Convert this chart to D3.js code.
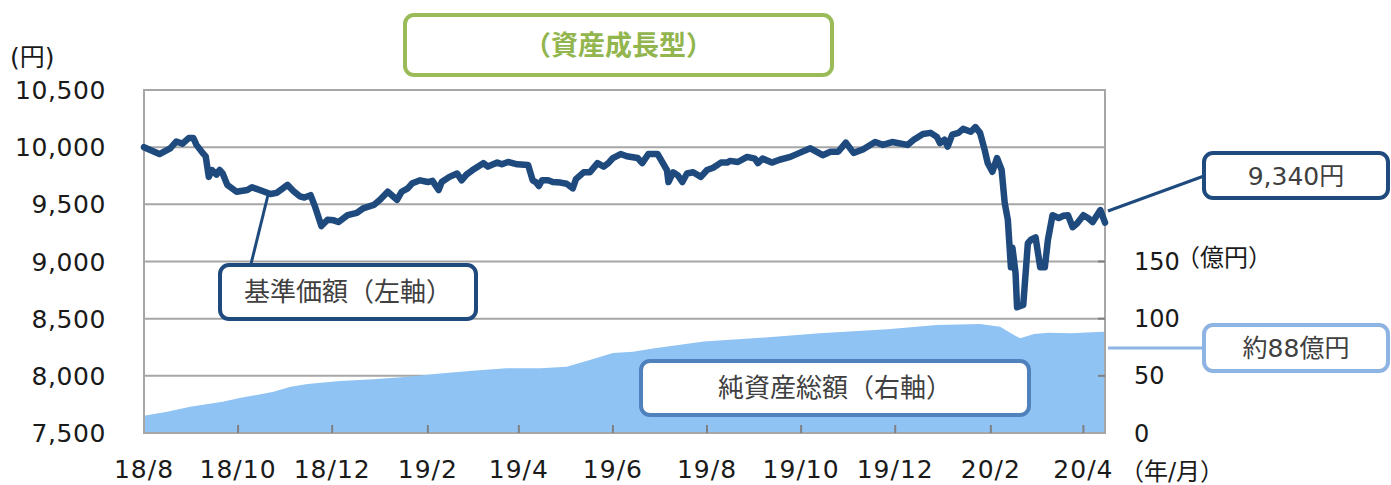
<!DOCTYPE html>
<html><head><meta charset="utf-8">
<script src="https://cdn.jsdelivr.net/npm/d3@7"></script>
<style>
html,body{margin:0;padding:0;background:#fff;}
svg{display:block;font-family:"DejaVu Sans","Noto Sans CJK JP",sans-serif;}
</style></head>
<body>
<svg id="c" width="1391" height="485"></svg>
<script>
// ---- data ----
const startDate = "2018-08-01";
const endDay = 623;
// 基準価額 (円): day offset from start and value
const navDays = [0,10,17,21,25,29,32,34,38,40,42,44,47,49,51,54,60,67,70,75,82,86,90,93,97,101,104,108,111,115,119,123,126,132,138,142,149,153,158,164,167,171,174,179,184,187,191,193,198,203,206,209,213,220,223,229,232,236,242,249,252,254,256,258,262,265,270,274,278,280,285,289,294,298,301,304,309,313,320,323,327,333,336,339,340,343,346,349,352,356,361,365,369,374,378,380,385,391,396,398,401,407,412,419,425,432,440,445,450,455,460,466,474,479,485,495,499,505,510,514,516,519,521,524,528,531,536,539,542,545,547,550,553,556,558,560,562,563,565,566,570,573,575,578,581,584,586,589,593,596,599,602,605,609,612,615,620,623];
const navValues = [10000,9940,9990,10050,10030,10080,10080,10020,9950,9920,9740,9800,9760,9800,9770,9670,9610,9625,9650,9625,9590,9600,9640,9670,9615,9570,9560,9580,9475,9310,9365,9360,9345,9405,9425,9465,9495,9540,9610,9540,9610,9640,9685,9710,9695,9705,9625,9695,9740,9770,9710,9760,9800,9860,9830,9865,9850,9870,9850,9845,9710,9695,9660,9710,9710,9695,9690,9680,9640,9720,9780,9780,9860,9830,9860,9905,9940,9920,9905,9860,9940,9940,9870,9800,9695,9780,9755,9695,9770,9780,9740,9800,9820,9865,9865,9880,9870,9915,9900,9860,9900,9865,9890,9915,9950,9990,9930,9960,9960,10040,9950,9980,10045,10020,10045,10020,10065,10115,10125,10090,10035,10065,10005,10110,10125,10160,10135,10175,10125,9975,9860,9785,9905,9800,9510,9365,8950,9120,8900,8600,8620,9160,9190,9210,8950,8950,9190,9405,9380,9400,9405,9300,9335,9405,9380,9345,9450,9340];
// 純資産総額 (億円)
const aumDays = [0,15,30,51,62,84,95,106,127,149,171,192,213,235,257,274,289,304,317,330,363,395,438,482,514,542,555,562,568,577,586,601,622,623];
const aumValues = [15,18.6,23,27.4,30.6,36,40.5,42.8,45.5,47,49.3,52,54.5,56.6,56.6,58,63.8,70,71,74,80,82.8,87.2,90.7,94.4,95.3,93,87.2,82.8,86.6,87.7,87.2,88.6,88];
const xTickLabels = ["18/8","18/10","18/12","19/2","19/4","19/6","19/8","19/10","19/12","20/2","20/4"];
const leftTicks = [7500,8000,8500,9000,9500,10000,10500];
const rightTicks = [0,50,100,150];
const titleText = "（資産成長型）";
const navLabel = "基準価額（左軸）";
const aumLabel = "純資産総額（右軸）";
const navLast = "9,340円";
const aumLast = "約88億円";

// ---- layout ----
const L = 144, R = 1105, T = 90, B = 433;
const svg = d3.select("#c");
const t0 = new Date(startDate + "T00:00:00");
const dayToDate = d => new Date(t0.getTime() + d * 86400000);
const x = d3.scaleTime().domain([t0, dayToDate(endDay)]).range([L, R]);
const yL = d3.scaleLinear().domain([7500, 10500]).range([B, T]);
const yR = d3.scaleLinear().domain([0, 300]).range([B, T]);
const tickDates = xTickLabels.map(s => { const [yy, mm] = s.split("/"); return new Date(2000 + +yy, +mm - 1, 1); });

const grid = "#a6a6a6";
const navColor = "#1f4a7e";
const aumFill = "#8fc3f3";

// gridlines
svg.append("g").selectAll("line").data(leftTicks).join("line")
  .attr("x1", L).attr("x2", R).attr("y1", d => yL(d)).attr("y2", d => yL(d))
  .attr("stroke", grid).attr("stroke-width", 2);

// area
const aumData = aumDays.map((d, i) => ({ date: dayToDate(d), v: aumValues[i] }));
svg.append("path").datum(aumData)
  .attr("d", d3.area().x(d => x(d.date)).y0(yR(0)).y1(d => yR(d.v)))
  .attr("fill", aumFill);

// frame
svg.append("rect").attr("x", L).attr("y", T).attr("width", R - L).attr("height", B - T)
  .attr("fill", "none").attr("stroke", grid).attr("stroke-width", 2);

// bottom ticks (inward)
svg.append("g").selectAll("line").data(tickDates.slice(1)).join("line")
  .attr("x1", d => x(d)).attr("x2", d => x(d)).attr("y1", B).attr("y2", B - 8)
  .attr("stroke", "#808080").attr("stroke-width", 2);
// right ticks (inward)
svg.append("g").selectAll("line").data(rightTicks.slice(1)).join("line")
  .attr("x1", R).attr("x2", R - 7).attr("y1", d => yR(d)).attr("y2", d => yR(d))
  .attr("stroke", "#808080").attr("stroke-width", 2);

// line
const navData = navDays.map((d, i) => ({ date: dayToDate(d), v: navValues[i] }));
svg.append("path").datum(navData)
  .attr("d", d3.line().x(d => x(d.date)).y(d => yL(d.v)))
  .attr("fill", "none").attr("stroke", navColor).attr("stroke-width", 6.5)
  .attr("stroke-linejoin", "round").attr("stroke-linecap", "round");

// axis labels
const txt = "#1a1a1a";
svg.append("g").selectAll("text").data(leftTicks).join("text")
  .attr("x", 106).attr("y", d => yL(d)).attr("dy", "0.36em").attr("text-anchor", "end")
  .attr("font-size", 25).attr("letter-spacing", 0.6).attr("fill", txt).text(d => d3.format(",")(d));
svg.append("text").attr("x", 10).attr("y", 57).attr("dy", "0.36em")
  .attr("font-size", 25).attr("fill", txt).text("(円)");

svg.append("g").selectAll("text").data(rightTicks).join("text")
  .attr("x", 1134).attr("y", d => yR(d)).attr("dy", "0.36em")
  .attr("font-size", 24).attr("fill", txt).text(d => d);
svg.append("text").attr("x", 1176).attr("y", 257).attr("dy", "0.36em")
  .attr("font-size", 24).attr("fill", txt).text("（億円）");

svg.append("g").selectAll("text").data(tickDates).join("text")
  .attr("x", d => x(d)).attr("y", 469).attr("dy", "0.36em").attr("text-anchor", "middle")
  .attr("font-size", 25).attr("letter-spacing", 1).attr("fill", txt).text((d, i) => xTickLabels[i]);
svg.append("text").attr("x", 1120).attr("y", 471).attr("dy", "0.36em")
  .attr("font-size", 24).attr("fill", txt).text("（年/月）");

// boxes
function box(x0, y0, w, h, stroke, label, color, size, weight, family) {
  svg.append("rect").attr("x", x0).attr("y", y0).attr("width", w).attr("height", h)
    .attr("rx", 9).attr("fill", "#fff").attr("stroke", stroke).attr("stroke-width", 4);
  svg.append("text").attr("x", x0 + w / 2).attr("y", y0 + h / 2).attr("dy", "0.36em")
    .attr("text-anchor", "middle").attr("font-size", size).attr("font-weight", weight || "normal")
    .attr("fill", color).attr("font-family", family || "'Noto Sans CJK JP','DejaVu Sans',sans-serif").text(label);
}
// title
box(405, 15, 427, 60, "#9bbb59", titleText, "#92b54e", 27, "bold");

// nav legend + leader
svg.append("line").attr("x1", 268).attr("y1", 195).attr("x2", 251).attr("y2", 264)
  .attr("stroke", navColor).attr("stroke-width", 3);
box(220, 265, 256, 54, navColor, navLabel, "#404040", 26);

// aum legend
box(641, 361, 388, 54, "#4f81bd", aumLabel, "#404040", 26);

// last value callouts
svg.append("line").attr("x1", 1108).attr("y1", 211).attr("x2", 1204).attr("y2", 176)
  .attr("stroke", navColor).attr("stroke-width", 3);
box(1204, 153, 184, 45, navColor, navLast, "#404040", 25, "normal", "'DejaVu Sans','Noto Sans CJK JP',sans-serif");

svg.append("line").attr("x1", 1108).attr("y1", 348).attr("x2", 1204).attr("y2", 348)
  .attr("stroke", "#8db4e2").attr("stroke-width", 3);
box(1204, 325, 184, 46, "#8db4e2", aumLast, "#404040", 25, "normal", "'DejaVu Sans','Noto Sans CJK JP',sans-serif");
</script>
</body></html>
